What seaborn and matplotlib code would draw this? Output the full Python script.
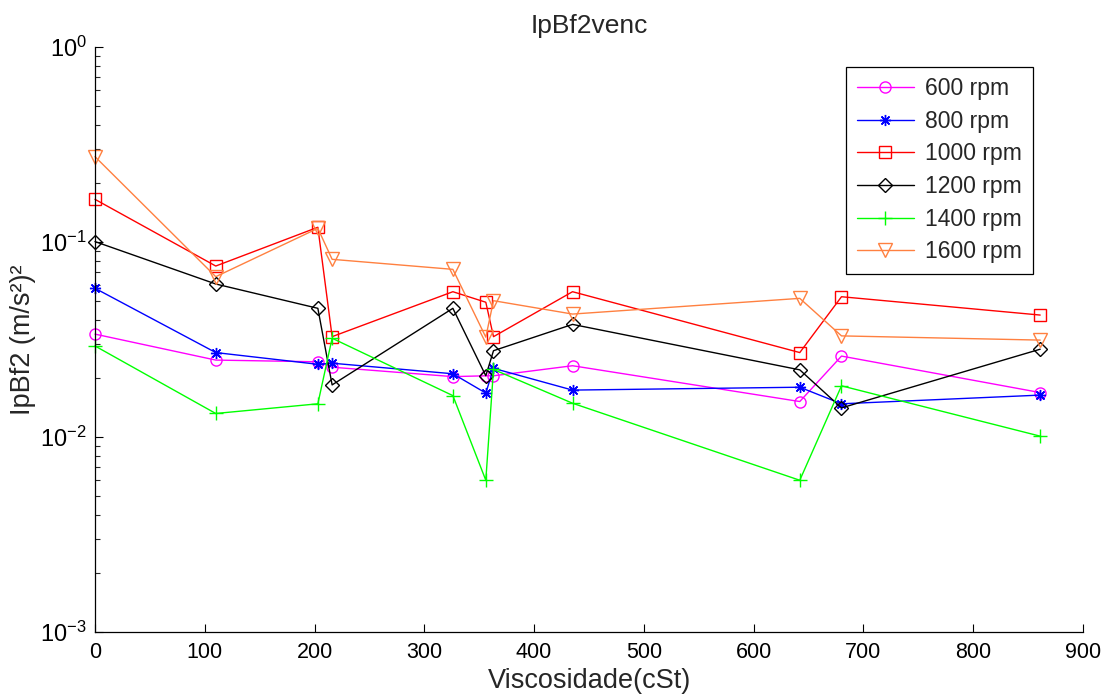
import matplotlib
matplotlib.use("Agg")
import matplotlib.pyplot as plt
import seaborn as sns
import pandas as pd
import numpy as np
from matplotlib.ticker import LogLocator, FixedLocator, NullFormatter

viscosity = [0, 110, 203, 216, 326, 356, 363, 435, 642, 680, 861]
rpm_labels = ["600 rpm", "800 rpm", "1000 rpm", "1200 rpm", "1400 rpm", "1600 rpm"]
v600 = [0.0337, 0.0248, 0.0243, 0.0228, 0.0204, 0.0206, 0.0206, 0.0232, 0.0152, 0.0260, 0.0169]
v800 = [0.0579, 0.0271, 0.0236, 0.0239, 0.0211, 0.0168, 0.0225, 0.0174, 0.0180, 0.0148, 0.0164]
v1000 = [0.1655, 0.0753, 0.1190, 0.0327, 0.0556, 0.0491, 0.0327, 0.0556, 0.0271, 0.0524, 0.0422]
v1200 = [0.1005, 0.0609, 0.0457, 0.0185, 0.0457, 0.0206, 0.0277, 0.0378, 0.0221, 0.0141, 0.0282]
v1400 = [0.0293, 0.0132, 0.0148, 0.0321, 0.0163, 0.0060, 0.0222, 0.0149, 0.0060, 0.0183, 0.0101]
v1600 = [0.2740, 0.0664, 0.1175, 0.0815, 0.0724, 0.0325, 0.0500, 0.0427, 0.0514, 0.0330, 0.0314]
x_ticks = [0, 100, 200, 300, 400, 500, 600, 700, 800, 900]

series = [v600, v800, v1000, v1200, v1400, v1600]
colors = ["#ff00ff", "#0000ff", "#ff0000", "#000000", "#00ff00", "#ff8040"]
markers = ["o", (8, 2, 0), "s", "D", "+", "v"]
msizes = [8, 8, 9, 7, 10, 10]

sns.set_theme(style="white")
plt.rcParams["font.family"] = ["Liberation Sans", "DejaVu Sans"]
plt.rcParams["mathtext.fontset"] = "custom"
plt.rcParams["mathtext.rm"] = "Liberation Sans"
plt.rcParams["mathtext.it"] = "Liberation Sans:italic"
plt.rcParams["mathtext.bf"] = "Liberation Sans:bold"

fig = plt.figure(figsize=(11.08, 6.97), dpi=100)
ax = fig.add_axes([95 / 1108, 1 - 632 / 697, (1083 - 95) / 1108, (632 - 47) / 697])

frames = []
for lab, vals in zip(rpm_labels, series):
    frames.append(pd.DataFrame({"Viscosidade": viscosity, "val": vals, "rpm": lab}))
df = pd.concat(frames, ignore_index=True)

for lab, col, mk, ms in zip(rpm_labels, colors, markers, msizes):
    sub = df[df["rpm"] == lab]
    sns.lineplot(data=sub, x="Viscosidade", y="val", ax=ax, color=col, label=lab,
                 marker=mk, markersize=ms, markerfacecolor="none", markeredgecolor=col,
                 markeredgewidth=1.0, linewidth=1.0, estimator=None, sort=False,
                 clip_on=False)

ax.set_yscale("log")
ax.set_xlim(0, 900)
ax.set_ylim(1e-3, 1)
ax.xaxis.set_major_locator(FixedLocator(x_ticks))
ax.set_xticklabels([str(t) for t in x_ticks])
ax.yaxis.set_major_locator(LogLocator(base=10))
ax.yaxis.set_minor_locator(LogLocator(base=10, subs=np.arange(2, 10)))
ax.yaxis.set_minor_formatter(NullFormatter())

ax.tick_params(axis="x", which="major", direction="in", length=6, width=0.8,
               labelsize=15.5, colors="black", pad=7)
ax.tick_params(axis="y", which="major", direction="in", length=6, width=0.8,
               labelsize=17, colors="black", pad=6)
ax.tick_params(axis="y", which="minor", direction="in", length=3.5, width=0.8, left=True)
ax.tick_params(axis="x", which="both", bottom=True, top=False)
ax.tick_params(axis="y", which="both", left=True, right=False)

for s in ["top", "right"]:
    ax.spines[s].set_visible(False)
for s in ["left", "bottom"]:
    ax.spines[s].set_color("black")
    ax.spines[s].set_linewidth(0.9)

ax.set_title("IpBf2venc", fontsize=19, pad=10)
ax.set_xlabel("Viscosidade(cSt)", fontsize=19.5, labelpad=4)
ax.set_ylabel("IpBf2 (m/s²)²", fontsize=19.5, labelpad=3)

leg = ax.legend(loc="upper right", bbox_to_anchor=(0.949, 0.966), borderaxespad=0,
                fontsize=16.5, frameon=True, fancybox=False, framealpha=1,
                edgecolor="black", handlelength=2.5, labelspacing=0.42,
                borderpad=0.45, handletextpad=0.5)
leg.get_frame().set_linewidth(0.9)

fig.savefig("out.png", dpi=100)
